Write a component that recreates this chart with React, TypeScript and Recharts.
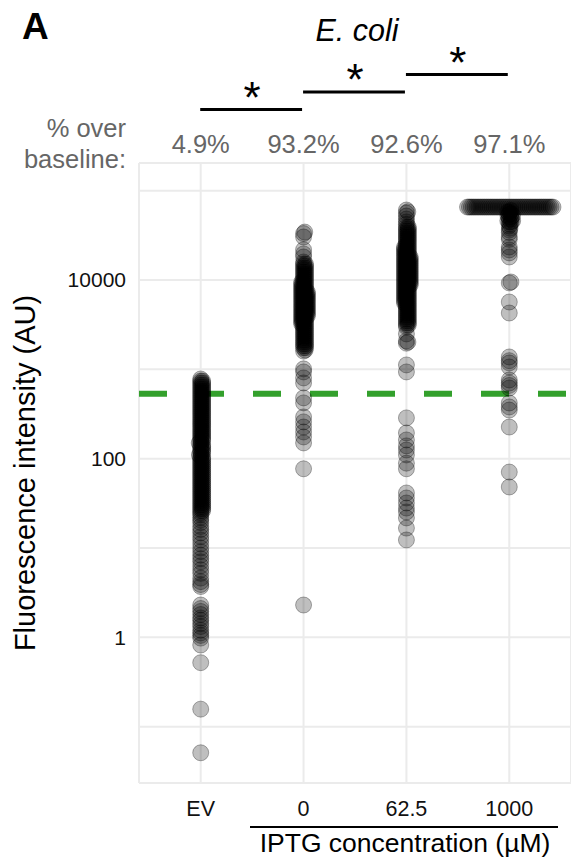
import React from 'react';
import { ScatterChart, Scatter, XAxis, YAxis, CartesianGrid, ReferenceLine } from 'recharts';

// ---------- data (value bins + number of cells per bin) ----------
const categories = ['EV', '0', '62.5', '1000'];
const percentOverBaseline = ['4.9%', '93.2%', '92.6%', '97.1%'];
const baselineValue = 532;
const yTicks = [0.1, 1, 10, 100, 1000, 10000, 100000];
const yTickLabels = ['', '1', '', '100', '', '10000', ''];

const evValues = [
  779, 740, 703, 668, 634, 602, 572, 543, 516, 490, 466, 442, 420, 399, 379, 360, 342, 325, 309, 293,
  278, 264, 251, 239, 227, 215, 204, 194, 184, 175, 166, 158, 150, 143, 136, 129, 122, 116, 110, 105,
  99.7, 94.7, 90, 85.5, 81.2, 77.1, 73.2, 69.6, 66.1, 62.8, 59.6, 56.6, 53.8, 51.1, 48.5, 46.1, 43.8,
  41.6, 39.5, 37.5, 35.6, 33.8, 32.1, 30.5, 29.0, 27.5, 26.1, 24.8, 23.6,
  22, 20.6, 19.2, 17.4, 16.1, 14.8, 13.4, 12.3, 11.1, 10.0, 9.1, 8.3, 7.6, 7.0, 6.3, 5.7, 5.2, 4.6,
  4.2, 3.9, 3.7, 2.3, 2.1, 1.95, 1.8, 1.65, 1.55, 1.42, 1.32, 1.2, 1.12, 1.05, 0.98, 0.82, 0.52,
  0.157, 0.051,
];
const evCounts = [
  1, 2, 2, 2, 2, 2, 2, 2, 2, 2, 2, 2, 2, 2, 2, 2, 2, 2, 2, 2,
  2, 2, 2, 2, 2, 2, 2, 2, 2, 2, 2, 2, 2, 2, 2, 2, 2, 2, 2, 2,
  2, 2, 2, 2, 2, 2, 2, 2, 2, 2, 2, 2, 2, 2, 2, 2, 2,
  2, 2, 2, 2, 2, 2, 2, 2, 2, 2, 1, 1,
  1, 1, 1, 1, 1, 1, 1, 1, 1, 1, 1, 1, 1, 1, 1, 1, 1, 1,
  1, 1, 1, 1, 1, 1, 1, 1, 1, 1, 1, 1, 1, 1, 1, 1, 1,
  1, 1,
];

const iptg0Values = [
  34400, 33100, 30300, 21800, 19600, 18100,
  15900, 15100, 14340, 13620, 12940, 12290, 11670, 11085, 10530, 10000, 9495, 9020, 8560, 8130,
  7725, 7340, 6970, 6620, 6290, 5970, 5670, 5380, 5110, 4860, 4610, 4380, 4160, 3950, 3755, 3565,
  3390, 3220, 3060, 2900, 2755, 2620, 2490, 2365, 2250, 2130, 2025, 1925, 1830, 1740, 1645,
  1600, 1012, 935, 801, 704, 479, 421, 293, 258, 226, 199, 175, 150, 77, 2.3,
];
const iptg0Counts = [
  1, 1, 1, 1, 1, 1,
  1, 2, 2, 2, 2, 2, 2, 2, 2, 2, 3, 3, 3, 3,
  3, 4, 4, 4, 4, 4, 4, 4, 4, 4, 4, 4, 4, 4, 3, 3,
  3, 3, 2, 2, 2, 2, 2, 2, 2, 2, 2, 2, 2, 2, 1,
  1, 1, 1, 1, 1, 1, 1, 1, 1, 1, 1, 1, 1, 1, 1,
];

const iptg625Values = [
  60700, 58000, 56100, 52000, 48100, 44600, 42000,
  39200, 37200, 35400, 33600, 31900, 30300, 28800, 27400, 26000, 24640, 23400, 22250, 21150, 20100,
  19040, 18080, 17170, 16310, 15490, 14720, 13980, 13280, 12610, 11980, 11370, 10800, 10260, 9740,
  9255, 8785, 8345, 7925, 7530, 7150, 6790, 6450, 6130, 5820, 5520, 5250, 4985, 4735, 4495, 4270,
  4055, 3850, 3660, 3475, 3300, 3135, 2980,
  2490, 2080, 2020, 1960, 1120, 935, 286, 194, 162, 139, 125, 110, 89, 77, 41.3, 36.3, 31.9, 28,
  25.3, 21.7, 16.7, 12.3,
];
const iptg625Counts = [
  1, 1, 1, 1, 1, 1, 1,
  2, 2, 2, 2, 2, 2, 2, 2, 2, 2, 3, 3, 3, 3,
  3, 4, 4, 4, 4, 4, 4, 4, 4, 4, 4, 4, 4, 4,
  4, 4, 3, 3, 3, 3, 3, 3, 3, 3, 3, 2, 2, 2, 2, 2,
  2, 2, 2, 2, 2, 2, 1,
  1, 1, 1, 1, 1, 1, 1, 1, 1, 1, 1, 1, 1, 1, 1, 1, 1, 1,
  1, 1, 1, 1,
];

const iptg1000Values = [
  65535,
  60000, 57700, 55000, 52500, 50700, 48000, 46000, 44600, 42000, 40200, 38000, 36300, 34000,
  30300, 28500, 23400, 21700, 20100, 18100, 9500, 9270, 5670, 4270, 1375, 1250, 1178, 1062,
  760, 703, 660, 618, 420, 379, 350, 226, 70.8, 48.2,
];
const iptg1000Counts = [
  46,
  1, 2, 2, 2, 2, 2, 2, 2, 1, 1, 1, 1, 1,
  1, 1, 1, 1, 1, 1, 1, 1, 1, 1, 1, 1, 1, 1,
  1, 1, 1, 1, 1, 1, 1, 1, 1, 1,
];

const groupValues = [evValues, iptg0Values, iptg625Values, iptg1000Values];
const groupCounts = [evCounts, iptg0Counts, iptg625Counts, iptg1000Counts];

// ---------- layout ----------
const W = 571;
const H = 859;
const PLOT_LEFT = 139;
const PLOT_TOP = 163;
const PLOT_BOTTOM = 783;
const X_DOMAIN: [number, number] = [0.4, 4.6];
const Y_DOMAIN: [number, number] = [0.0234, 204000];
const pxPerUnitX = (W - PLOT_LEFT) / (X_DOMAIN[1] - X_DOMAIN[0]);
const pxPerDecade = (PLOT_BOTTOM - PLOT_TOP) / (Math.log10(Y_DOMAIN[1]) - Math.log10(Y_DOMAIN[0]));
const SWARM_SPACING = 1.9;
const FONT = '"Liberation Sans", Arial, Helvetica, sans-serif';
const GREY_TEXT = '#666666';

// beeswarm layout: horizontal offset (px) for each value
function swarmOffsets(values: number[]): number[] {
  const order = values.map((_, i) => i).sort((a, b) => values[a] - values[b]);
  const placed: { x: number; y: number }[] = [];
  const out = new Array(values.length).fill(0);
  const d = SWARM_SPACING;
  for (const i of order) {
    const y = Math.log10(values[i]) * pxPerDecade;
    const near = placed.filter((p) => Math.abs(p.y - y) < d);
    const cands = [0];
    for (const p of near) {
      const dx = Math.sqrt(d * d - (p.y - y) ** 2);
      cands.push(p.x + dx, p.x - dx);
    }
    cands.sort((a, b) => Math.abs(a) - Math.abs(b) || b - a);
    let chosen = 0;
    for (const c of cands) {
      if (near.every((p) => (p.x - c) ** 2 + (p.y - y) ** 2 >= d * d - 1e-6)) {
        chosen = c;
        break;
      }
    }
    placed.push({ x: chosen, y });
    out[i] = chosen;
  }
  return out;
}

const seriesData = groupValues.map((vals, gi) => {
  const counts = groupCounts[gi];
  const cells: number[] = [];
  vals.forEach((v, k) => {
    for (let c = 0; c < counts[k]; c++) cells.push(v);
  });
  const offs = swarmOffsets(cells);
  return cells.map((v, k) => ({ x: gi + 1 + offs[k] / pxPerUnitX, y: v }));
});

const catX = (i: number) => PLOT_LEFT + (i + 1 - X_DOMAIN[0]) * pxPerUnitX;

const Dot = (props: any) => (
  <circle
    cx={props.cx}
    cy={props.cy}
    r={8}
    fill="#000"
    fillOpacity={0.25}
    stroke="#000"
    strokeOpacity={0.3}
    strokeWidth={1}
  />
);

const XTick = (props: any) => {
  const { x, y, payload } = props;
  return (
    <text x={x} y={y + 33} textAnchor="middle" fontSize={21.5} fontFamily={FONT} fill="#111">
      {categories[Math.round(payload.value) - 1]}
    </text>
  );
};

const YTick = (props: any) => {
  const { x, y, payload } = props;
  const idx = yTicks.indexOf(payload.value);
  const label = idx >= 0 ? yTickLabels[idx] : '';
  return (
    <text x={x} y={y} dy={7.5} textAnchor="end" fontSize={21} fontFamily={FONT} fill="#111">
      {label}
    </text>
  );
};

const brackets = [
  { from: 0, to: 1, y: 109.5 },
  { from: 1, to: 2, y: 92 },
  { from: 2, to: 3, y: 74.5 },
];

export default function App() {
  return (
    <div style={{ position: 'absolute', left: 0, top: 0, width: W, height: H, background: '#fff' }}>
      <ScatterChart width={W} height={H} margin={{ top: PLOT_TOP, right: 0, bottom: H - PLOT_BOTTOM - 30, left: 0 }}>
        <CartesianGrid stroke="#ebebeb" strokeWidth={2} />
        <XAxis
          type="number"
          dataKey="x"
          domain={X_DOMAIN}
          allowDataOverflow
          ticks={[1, 2, 3, 4]}
          interval={0}
          axisLine={false}
          tickLine={false}
          tickSize={0}
          tickMargin={0}
          height={30}
          tick={<XTick />}
        />
        <YAxis
          type="number"
          dataKey="y"
          scale="log"
          domain={Y_DOMAIN}
          allowDataOverflow
          ticks={yTicks}
          interval={0}
          axisLine={false}
          tickLine={false}
          tickSize={0}
          tickMargin={13}
          width={PLOT_LEFT}
          tick={<YTick />}
        />
        {seriesData.map((d, i) => (
          <Scatter key={categories[i]} data={d} shape={<Dot />} isAnimationActive={false} />
        ))}
        <ReferenceLine y={baselineValue} stroke="#33a02c" strokeWidth={6} strokeDasharray="28 29" />
      </ScatterChart>
      <svg
        width={W}
        height={H}
        style={{ position: 'absolute', left: 0, top: 0, pointerEvents: 'none' }}
        fontFamily={FONT}
      >
        <text x={22} y={38.5} fontSize={37} fontWeight="bold" fill="#000">A</text>
        <text x={357} y={40.5} fontSize={30.5} fontStyle="italic" textAnchor="middle" fill="#000">
          E. coli
        </text>
        {brackets.map((b, i) => (
          <g key={i}>
            <line x1={catX(b.from) - 0.5} x2={catX(b.to) - 1.5} y1={b.y} y2={b.y} stroke="#000" strokeWidth={3} />
            <text x={(catX(b.from) + catX(b.to)) / 2} y={b.y + 3} fontSize={44} textAnchor="middle" fill="#000">
              *
            </text>
          </g>
        ))}
        <text x={126} y={136.7} fontSize={25.5} textAnchor="end" fill={GREY_TEXT}>% over</text>
        <text x={126} y={168.3} fontSize={25.5} textAnchor="end" fill={GREY_TEXT}>baseline:</text>
        {percentOverBaseline.map((p, i) => (
          <text key={p + i} x={catX(i)} y={153.3} fontSize={25.5} textAnchor="middle" fill={GREY_TEXT}>
            {p}
          </text>
        ))}
        <text transform="translate(34.5, 473) rotate(-90)" fontSize={29} textAnchor="middle" fill="#000">
          Fluorescence intensity (AU)
        </text>
        <line x1={250} x2={558} y1={827} y2={827} stroke="#000" strokeWidth={2} />
        <text x={405} y={852} fontSize={26.5} textAnchor="middle" fill="#000">
          IPTG concentration (µM)
        </text>
      </svg>
    </div>
  );
}
